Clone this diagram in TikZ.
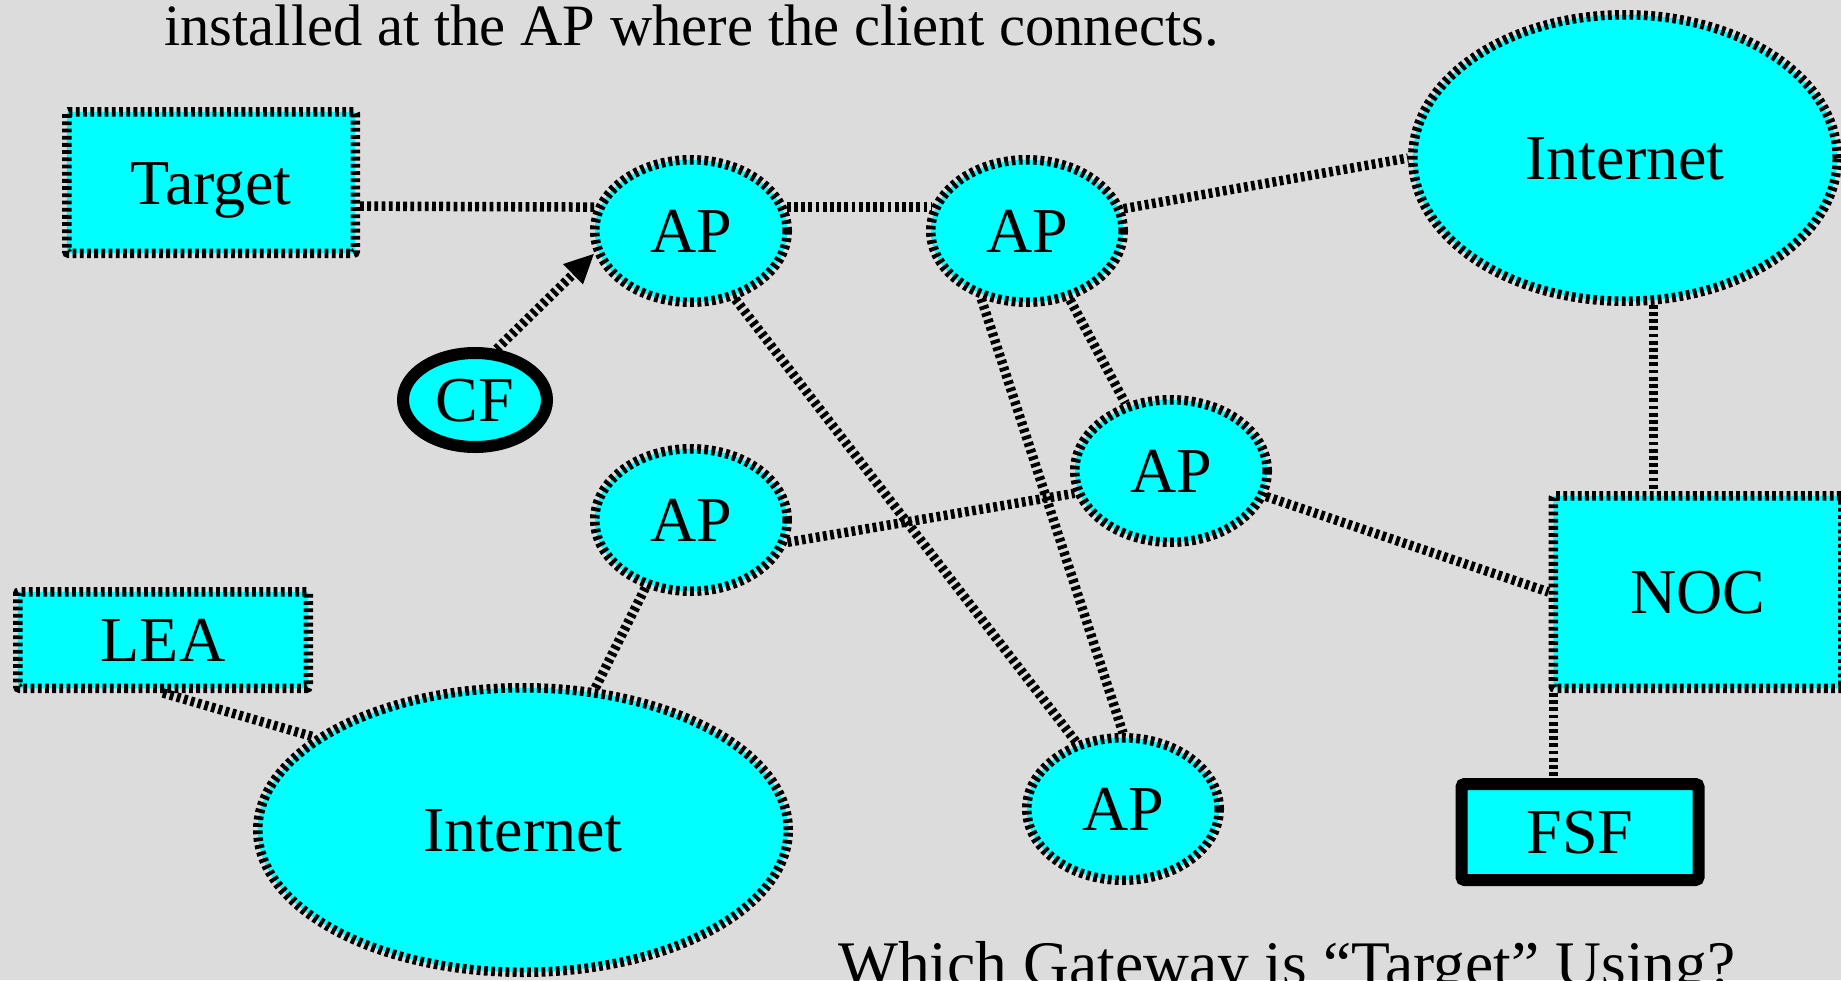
\documentclass[tikz,border=0pt]{standalone}
\usepackage{fontspec}
\setmainfont{Liberation Serif}
\usetikzlibrary{shapes.geometric,arrows.meta}
\definecolor{bgc}{RGB}{220,220,220}
\definecolor{cy}{RGB}{0,255,255}
\begin{document}
\begin{tikzpicture}[x=1pt,y=-1pt,
  dsh/.style={line width=9.5pt, dash pattern=on 3.8pt off 3.4pt},
  base/.style={fill=cy, inner sep=0pt, font=\fontsize{64}{77}\selectfont, text height=43pt, text depth=0pt},
  apnode/.style={base, ellipse, dsh, draw, minimum width=192.5pt, minimum height=142.5pt},
  netnode/.style={base, ellipse, dsh, draw},
  box/.style={base, rectangle, dsh, draw, rounded corners=2pt},
  solidbox/.style={base, rectangle, draw, line width=12pt, rounded corners=3pt},
  link/.style={dsh, draw}
]
\fill[bgc] (0,0) rectangle (1841,980);
\useasboundingbox (0,0) rectangle (1841,980);

\node[anchor=base west, inner sep=0pt, font=\fontsize{58.6}{70}\selectfont] (toptext) at (164,45) {installed at the AP where the client connects.};
\node[anchor=base west, inner sep=0pt, font=\fontsize{63.5}{76}\selectfont] (bottomtext) at (838,985) {Which Gateway is “Target” Using?};

\node[box, minimum width=288.5pt, minimum height=141.5pt] (Target) at (211,182.5) {Target};
\node[box, minimum width=290.5pt, minimum height=96.5pt] (LEA) at (163,640) {LEA};
\node[box, minimum width=289.5pt, minimum height=192.5pt] (NOC) at (1698,592) {NOC};
\node[solidbox, minimum width=237pt, minimum height=96pt] (FSF) at (1580,832) {FSF};
\node[base, ellipse, draw, line width=12pt, minimum width=144pt, minimum height=94pt] (CF) at (475,400) {CF};

\node[apnode] (AP1) at (691,231) {AP};
\node[apnode] (AP2) at (1027,231) {AP};
\node[apnode] (APmr) at (1171,471) {AP};
\node[apnode] (APml) at (691,520) {AP};
\node[apnode] (APb) at (1123,809) {AP};

\node[netnode, minimum width=424.5pt, minimum height=286.5pt] (NetT) at (1625,158) {Internet};
\node[netnode, minimum width=530.5pt, minimum height=284.5pt] (NetB) at (523,830) {Internet};

\draw[link] (Target.-9.3) -- (AP1.166);
\draw[link] (AP1.14) -- (AP2.166);
\draw[link] (AP2.13) -- (NetT.180);
\draw[link] (NetT.-79) -- (NetT.-79 |- NOC.north);
\draw[link] (AP2.-58) -- (APmr.124);
\draw[link] (AP2.236) -- (APb.90);
\draw[link] (AP1.-57) -- (APb.125);
\draw[link] (APml.-13) -- (APmr.193);
\draw[link] (APmr.-15) -- (NOC.west);
\draw[link] (APml.236) -- (NetB.63);
\draw[link] (LEA.south) -- (NetB.156);
\draw[link] ([xshift=5pt]NOC.south west) -- ([xshift=5pt]NOC.south west |- FSF.north);
\draw[link, -{Triangle[length=30pt,width=26pt]}] (CF.67) -- (AP1.-167);
\end{tikzpicture}
\end{document}
